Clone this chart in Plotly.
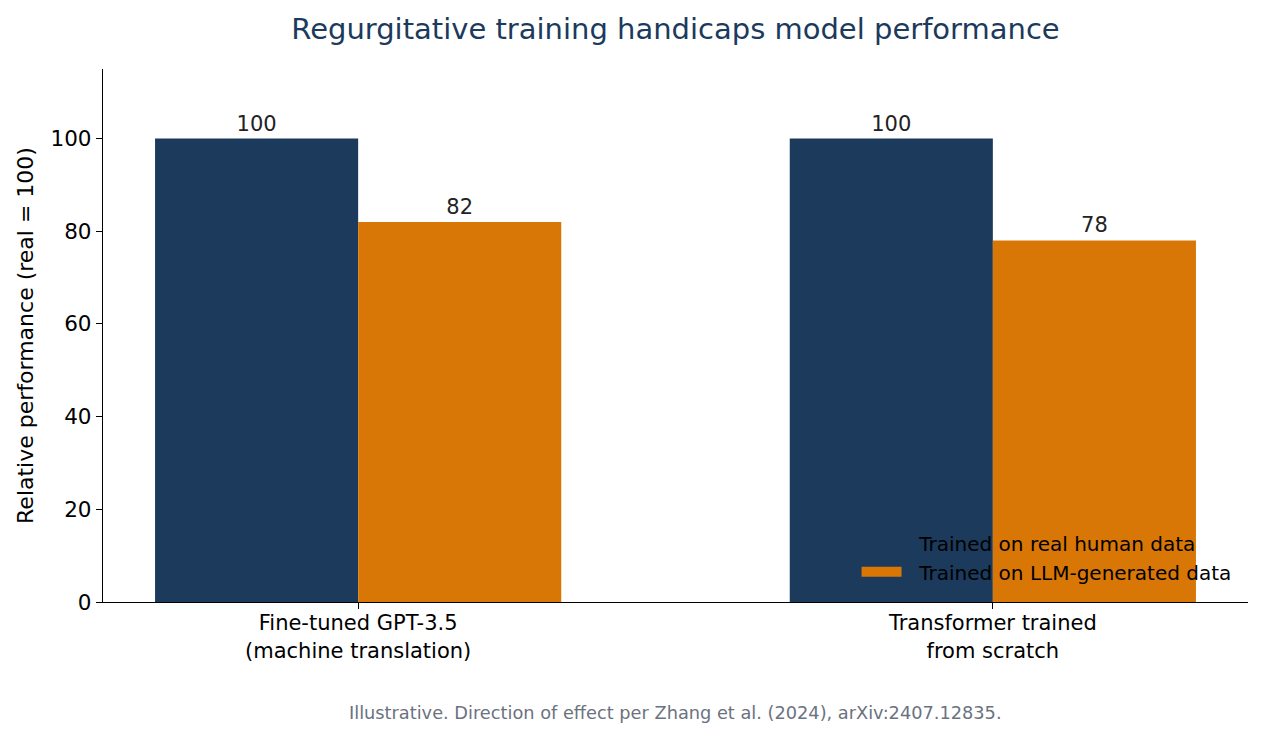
import plotly.graph_objects as go

categories = ["Fine-tuned GPT-3.5<br>(machine translation)", "Transformer trained<br>from scratch"]
real_values = [100, 100]
llm_values = [82, 78]
series_names = ["Trained on real human data", "Trained on LLM-generated data"]
y_ticks = [0, 20, 40, 60, 80, 100]

BLUE = "#1b3a5c"
ORANGE = "#d97706"
FONT = "DejaVu Sans"

x = list(range(len(categories)))
fig = go.Figure()
for vals, name, color, off in [(real_values, series_names[0], BLUE, -0.32),
                               (llm_values, series_names[1], ORANGE, 0.0)]:
    fig.add_trace(go.Bar(
        x=x, y=vals, name=name, marker=dict(color=color, line=dict(width=0)),
        width=0.32, offset=off, text=vals, textposition="outside",
        textfont=dict(size=21, color="#222222", family=FONT), cliponaxis=False,
        showlegend=False,
    ))
# legend entries (wide rectangular swatches)
for name, color in [(series_names[0], BLUE), (series_names[1], ORANGE)]:
    fig.add_trace(go.Scatter(x=[None], y=[None], mode="lines", name="\u00a0\u00a0" + name,
                             line=dict(color=color, width=14), showlegend=True))

fig.update_layout(
    width=1264, height=739,
    margin=dict(l=103, r=16, t=69, b=137),
    plot_bgcolor="white", paper_bgcolor="white",
    font=dict(family=FONT, size=21, color="black"),
    title=dict(text="Regurgitative training handicaps model performance",
               x=(103 + 1248) / 2 / 1264, xanchor="center", y=1 - 29 / 739, yanchor="middle",
               font=dict(size=29, color=BLUE, family=FONT)),
    barmode="overlay",
    showlegend=True,
    legend=dict(x=0.99, y=0.02, xanchor="right", yanchor="bottom",
                bgcolor="rgba(0,0,0,0)", font=dict(size=20, color="black", family=FONT),
                tracegroupgap=0, itemwidth=40),
    xaxis=dict(range=[-0.402, 1.402], tickvals=x, ticktext=categories,
               showline=True, linecolor="black", linewidth=1.3, ticks="outside",
               ticklen=6, tickcolor="black", showgrid=False, zeroline=False,
               ticklabelstandoff=-4,
               tickfont=dict(size=21, color="black")),
    yaxis=dict(range=[0, 115], tickvals=y_ticks, showline=True, linecolor="black",
               linewidth=1.3, ticks="outside", ticklen=6, tickcolor="black",
               showgrid=False, zeroline=False, tickfont=dict(size=21.5, color="black"),
               title=dict(text="Relative performance (real = 100)", font=dict(size=22), standoff=10)),
    annotations=[dict(text="Illustrative. Direction of effect per Zhang et al. (2024), arXiv:2407.12835.",
                      x=0.5, xref="paper", y=-(713 - 602) / 533, yref="paper", yanchor="middle",
                      showarrow=False, font=dict(size=17.75, color="#6b7280"))],
)

fig.write_html("out.html")
